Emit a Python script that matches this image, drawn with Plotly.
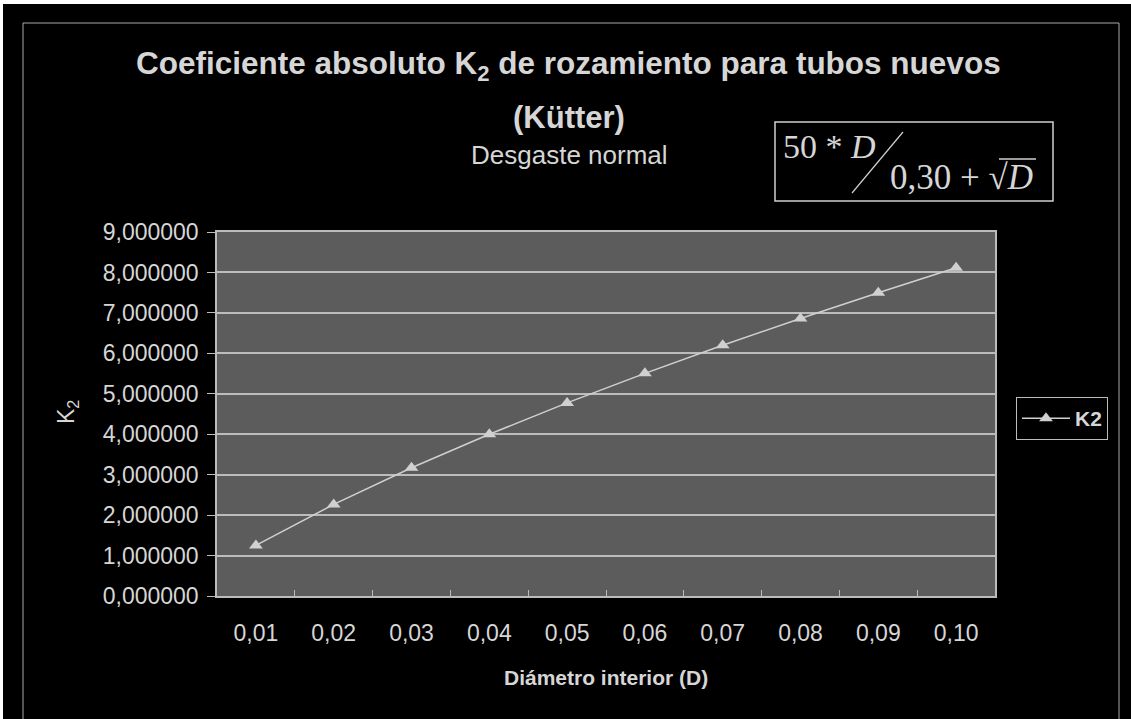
import plotly.graph_objects as go

# Interior diameter D (m) and the absolute coefficient K2 for each one
diametros = [0.01, 0.02, 0.03, 0.04, 0.05, 0.06, 0.07, 0.08, 0.09, 0.10]
etiquetas_d = ["0,01", "0,02", "0,03", "0,04", "0,05", "0,06", "0,07", "0,08", "0,09", "0,10"]
k2 = [1.250000, 2.264000, 3.170000, 4.000000, 4.774000, 5.505000, 6.199000, 6.863000, 7.500000, 8.114000]
y_ticks = [0, 1, 2, 3, 4, 5, 6, 7, 8, 9]

# Page geometry (pixels) used to place decorations around the plot area
W, H = 1131, 719
L, R, T, B = 217, 995, 232, 596


def px(x):
    return (x - L) / (R - L)


def py(y):
    return (B - y) / (B - T)


TXT = "#d6d6d6"
GRID = "#bcbcbc"
FONT = "Liberation Sans, Arial, sans-serif"
SERIF = "Liberation Serif, Times New Roman, serif"

fig = go.Figure()
fig.add_trace(go.Scatter(
    x=etiquetas_d,
    y=k2,
    name="K2",
    mode="lines+markers",
    line=dict(color="#d0d0d0", width=1.5),
    marker=dict(symbol="triangle-up", size=12, color="#d0d0d0"),
))

annotations = [
    dict(text="<b>Coeficiente absoluto K<sub>2</sub> de rozamiento para tubos nuevos</b>",
         x=px(568), y=py(65), font=dict(size=31.5, color=TXT, family=FONT)),
    dict(text="<b>(Kütter)</b>", x=px(569), y=py(117),
         font=dict(size=31, color=TXT, family=FONT)),
    dict(text="Desgaste normal", x=px(569), y=py(155),
         font=dict(size=26, color=TXT, family=FONT)),
    dict(text="<b>Diámetro interior (D)</b>", x=px(606), y=py(677),
         font=dict(size=21, color=TXT, family=FONT)),
    dict(text="K<sub>2</sub>", x=px(67), y=py(412), textangle=-90,
         font=dict(size=23, color=TXT, family=FONT)),
    # formula: 50*D / (0,30 + sqrt(D))
    dict(text="50 * <i>D</i>", x=px(781), y=py(146), xanchor="left",
         font=dict(size=34, color=TXT, family=SERIF)),
    dict(text="0,30 + √<i>D</i>", x=px(888), y=py(177), xanchor="left",
         font=dict(size=35, color=TXT, family=SERIF)),
]
for a in annotations:
    a.setdefault("xanchor", "center")
    a.update(xref="paper", yref="paper", yanchor="middle", showarrow=False)

shapes = [
    # outer chart frame
    dict(type="rect", x0=px(23), x1=px(1119), y0=py(23), y1=py(740),
         line=dict(color="#a8a8a8", width=1), layer="below"),
    # white scan edges
    dict(type="rect", x0=px(0), x1=px(W), y0=py(0), y1=py(4),
         fillcolor="white", line=dict(width=0)),
    dict(type="rect", x0=px(0), x1=px(3), y0=py(0), y1=py(H),
         fillcolor="white", line=dict(width=0)),
    # formula box, fraction slash and radical bar
    dict(type="rect", x0=px(775), x1=px(1053), y0=py(122), y1=py(201),
         line=dict(color="#d0d0d0", width=1.5)),
    dict(type="line", x0=px(852), x1=px(903), y0=py(193), y1=py(132),
         line=dict(color="#d0d0d0", width=1.2)),
    dict(type="line", x0=px(999), x1=px(1036), y0=py(159), y1=py(159),
         line=dict(color="#d0d0d0", width=1.5)),
]
for s in shapes:
    s.update(xref="paper", yref="paper")

fig.update_layout(
    width=W, height=H,
    margin=dict(l=L, r=W - R, t=T, b=H - B, pad=0),
    paper_bgcolor="black",
    plot_bgcolor="#5c5c5c",
    separators=",.",
    font=dict(family=FONT, color=TXT),
    showlegend=True,
    legend=dict(
        x=px(1016), y=py(397), xanchor="left", yanchor="top",
        bgcolor="black", bordercolor="#bcbcbc", borderwidth=1,
        itemwidth=48,
        font=dict(size=21, color=TXT, family=FONT, weight="bold"),
    ),
    annotations=annotations,
    shapes=shapes,
)

fig.update_xaxes(
    type="category",
    range=[-0.5, len(etiquetas_d) - 0.5],
    showgrid=False,
    showline=True, linecolor=GRID, linewidth=1.5, mirror=True,
    ticks="inside", ticklen=6, tickcolor=GRID, tickson="boundaries",
    ticklabelstandoff=16,
    tickfont=dict(size=23, color=TXT, family=FONT),
)
fig.update_yaxes(
    range=[0, 9],
    tickvals=y_ticks,
    tickformat=".6f",
    showgrid=True, gridcolor=GRID, gridwidth=1.5,
    showline=True, linecolor=GRID, linewidth=1.5, mirror=True,
    ticks="outside", ticklen=8, tickcolor=GRID,
    ticklabelstandoff=4,
    zeroline=False,
    tickfont=dict(size=23, color=TXT, family=FONT),
)

fig.write_html("out.html")
